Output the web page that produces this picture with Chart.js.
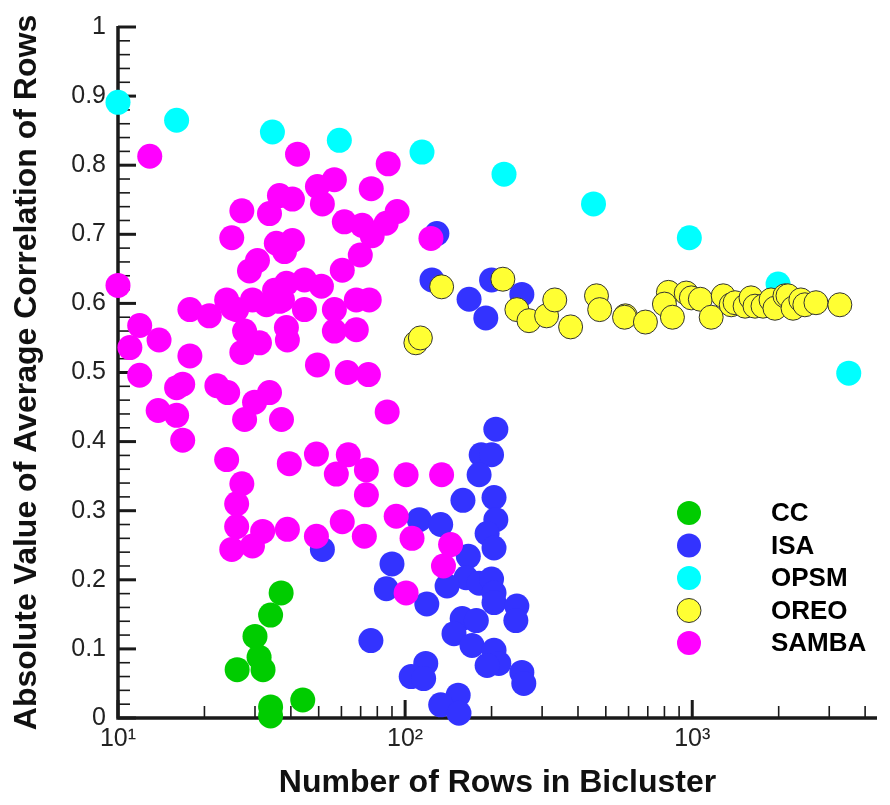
<!DOCTYPE html>
<html>
<head>
<meta charset="utf-8">
<script src="https://cdn.jsdelivr.net/npm/chart.js@4"></script>
<style>
  html, body { margin: 0; padding: 0; background: #fff; }
</style>
</head>
<body>
<canvas id="myChart" width="890" height="805"></canvas>
<script>
const ctx = document.getElementById("myChart").getContext("2d");

const methods = ["CC", "ISA", "OPSM", "OREO", "SAMBA"];

// number of rows / |avg correlation| for each bicluster
const ccRows = [37, 34, 30, 31, 26, 32, 34, 34, 44];
const ccCorr = [0.181, 0.149, 0.118, 0.088, 0.07, 0.07, 0.016, 0.003, 0.026];

const isaRows = [
  129, 124, 200, 167, 191, 255, 207, 184, 200, 181, 159, 204, 112, 133, 207,
  193, 204, 51.5, 166, 90, 163, 181, 200, 140, 204, 204, 86, 119, 245, 243,
  158, 177, 148, 76, 171, 204, 212, 193, 118, 105, 116, 255, 259, 153, 133, 154,
];
const isaCorr = [
  0.701, 0.634, 0.634, 0.606, 0.579, 0.613, 0.418, 0.381, 0.381, 0.352, 0.315,
  0.319, 0.287, 0.28, 0.287, 0.267, 0.246, 0.244, 0.234, 0.223, 0.203, 0.195,
  0.201, 0.191, 0.181, 0.167, 0.187, 0.165, 0.162, 0.141, 0.144, 0.141, 0.122,
  0.112, 0.105, 0.098, 0.079, 0.076, 0.079, 0.06, 0.057, 0.066, 0.05, 0.033,
  0.019, 0.007,
];

const opsmRows = [10, 16, 34.5, 59, 114.5, 221, 453, 977, 1990, 3508];
const opsmCorr = [0.891, 0.865, 0.848, 0.836, 0.819, 0.787, 0.744, 0.695, 0.628, 0.499];

const oreoRows = [
  109, 113, 134, 219, 245, 270, 311, 332, 377, 464, 476, 585, 581, 687, 826,
  800, 853, 953, 993, 1067, 1282, 1164, 1367, 1410, 1528, 1602, 1654, 1764,
  1881, 1941, 2103, 2155, 2244, 2389, 2467, 2697, 3266,
];
const oreoCorr = [
  0.543, 0.55, 0.624, 0.635, 0.591, 0.575, 0.582, 0.605, 0.566, 0.611, 0.591,
  0.582, 0.58, 0.573, 0.616, 0.599, 0.58, 0.615, 0.608, 0.606, 0.611, 0.58,
  0.598, 0.601, 0.596, 0.608, 0.596, 0.596, 0.605, 0.593, 0.611, 0.611, 0.593,
  0.605, 0.598, 0.601, 0.598,
];

const sambaRows = [
  12.9, 10, 11, 11.9, 13.9, 11.9, 13.8, 16, 16.8, 16,
  16.8, 17.8, 17.8, 20.8, 22.1, 24.1, 23.9, 25.1, 29.4, 27.6,
  31.1, 27, 38.6, 38.9, 36.5, 29.9, 33.7, 27.6, 37.1, 23.9,
  27, 25.9, 39.5, 25.9, 31.9, 38.9, 24.9, 29.4, 49.1, 60.4,
  72.1, 49.1, 57.6, 63.4, 73.3, 73.3, 86.6, 100.8, 134, 93.1,
  105.7, 144, 136, 100.8, 27, 24.9, 33.7, 36.5, 40.5, 35.6,
  38, 40.5, 30.6, 28.7, 42.2, 87.3, 76.2, 56.7, 49.5, 51.5,
  61.4, 70.9, 76.8, 85.9, 93.8, 69.8, 60.4, 44.6, 51.1, 38.6,
  35.1, 32.9, 37.4, 44.6, 56.7, 67.6, 75, 56.7, 67.6, 49.5,
  62.9, 74.5, 25.9, 123,
];
const sambaCorr = [
  0.813, 0.626, 0.536, 0.568, 0.547, 0.496, 0.445, 0.478, 0.483, 0.438,
  0.402, 0.591, 0.524, 0.582, 0.481, 0.471, 0.605, 0.593, 0.605, 0.56,
  0.543, 0.529, 0.565, 0.547, 0.603, 0.457, 0.471, 0.432, 0.432, 0.374,
  0.339, 0.31, 0.368, 0.277, 0.27, 0.273, 0.244, 0.249, 0.263, 0.284,
  0.263, 0.382, 0.353, 0.381, 0.359, 0.323, 0.443, 0.352, 0.352, 0.292,
  0.26, 0.251, 0.22, 0.181, 0.734, 0.695, 0.73, 0.756, 0.751, 0.687,
  0.675, 0.691, 0.662, 0.647, 0.816, 0.802, 0.766, 0.779, 0.769, 0.744,
  0.718, 0.713, 0.698, 0.716, 0.733, 0.67, 0.648, 0.634, 0.625, 0.629,
  0.619, 0.598, 0.605, 0.591, 0.591, 0.605, 0.605, 0.56, 0.562, 0.511,
  0.5, 0.497, 0.591, 0.694,
];

const xTickValues = [
  10, 20, 30, 40, 50, 60, 70, 80, 90,
  100, 200, 300, 400, 500, 600, 700, 800, 900,
  1000, 2000, 3000, 4000,
];
const xTickLabels = { 10: "10¹", 100: "10²", 1000: "10³" };

const fontFamily = "'Liberation Sans', Arial, sans-serif";

function toPoints(rows, corr) {
  return rows.map((r, i) => ({ x: r, y: corr[i] }));
}

function makeSet(label, rows, corr, color, order, border) {
  return {
    label: label,
    data: toPoints(rows, corr),
    backgroundColor: color,
    borderColor: border || color,
    borderWidth: border ? 1 : 0,
    pointRadius: border ? 12 : 12.5,
    pointHoverRadius: border ? 12 : 12.5,
    order: order,
    clip: false,
  };
}

// axis lines and inward tick marks, drawn under the points
const axisFrame = {
  id: "axisFrame",
  beforeDatasetsDraw(chart) {
    const { ctx, chartArea, scales } = chart;
    const xs = scales.x;
    const ys = scales.y;
    ctx.save();
    ctx.strokeStyle = "#1a1a1a";
    ctx.lineCap = "butt";

    ys.ticks.forEach((t) => {
      const py = ys.getPixelForValue(t.value);
      const major = Math.round(t.value * 50) % 5 === 0;
      ctx.lineWidth = major ? 3 : 1.6;
      ctx.beginPath();
      ctx.moveTo(chartArea.left, py);
      ctx.lineTo(chartArea.left + (major ? 18 : 12), py);
      ctx.stroke();
    });

    xs.ticks.forEach((t) => {
      const px = xs.getPixelForValue(t.value);
      const major = xTickLabels[t.value] !== undefined;
      ctx.lineWidth = major ? 3 : 1.6;
      ctx.beginPath();
      ctx.moveTo(px, chartArea.bottom);
      ctx.lineTo(px, chartArea.bottom - (major ? 18 : 12));
      ctx.stroke();
    });

    ctx.lineWidth = 3.5;
    ctx.beginPath();
    ctx.moveTo(chartArea.left, chartArea.top - 1);
    ctx.lineTo(chartArea.left, chartArea.bottom);
    ctx.lineTo(chartArea.right, chartArea.bottom);
    ctx.stroke();
    ctx.restore();
  },
};

// legend block in the lower right of the plot
const methodLegend = {
  id: "methodLegend",
  afterDatasetsDraw(chart) {
    const { ctx } = chart;
    ctx.save();
    chart.data.datasets.forEach((ds, i) => {
      const cy = 513 + i * 32.5;
      ctx.beginPath();
      ctx.arc(689, cy, 12, 0, Math.PI * 2);
      ctx.fillStyle = ds.backgroundColor;
      ctx.fill();
      if (ds.borderWidth) {
        ctx.lineWidth = 1;
        ctx.strokeStyle = ds.borderColor;
        ctx.stroke();
      }
      ctx.fillStyle = "#000";
      ctx.font = "bold 26px " + fontFamily;
      ctx.textAlign = "left";
      ctx.textBaseline = "middle";
      ctx.fillText(ds.label, 771, cy + 1);
    });
    ctx.restore();
  },
};

const myChart = new Chart(ctx, {
  type: "scatter",
  data: {
    datasets: [
      makeSet(methods[0], ccRows, ccCorr, "#00cc00", 5),
      makeSet(methods[1], isaRows, isaCorr, "#3333ff", 4),
      makeSet(methods[2], opsmRows, opsmCorr, "#00ffff", 3),
      makeSet(methods[3], oreoRows, oreoCorr, "#ffff33", 2, "#333333"),
      makeSet(methods[4], sambaRows, sambaCorr, "#ff00ff", 1),
    ],
  },
  options: {
    responsive: false,
    animation: false,
    layout: { padding: { top: 22, right: 10, bottom: 0, left: 0 } },
    plugins: {
      legend: { display: false },
      tooltip: { enabled: false },
    },
    scales: {
      x: {
        type: "logarithmic",
        position: "bottom",
        min: 10,
        max: 4400,
        afterFit: (scale) => {
          scale.height = 87;
        },
        afterBuildTicks: (scale) => {
          scale.ticks = xTickValues.map((v) => ({ value: v }));
        },
        grid: { display: false, drawTicks: false },
        border: { display: false },
        ticks: {
          autoSkip: false,
          maxRotation: 0,
          padding: 6,
          color: "#222",
          font: { family: fontFamily, size: 25 },
          callback: (value) => xTickLabels[value] || "",
        },
        title: {
          display: true,
          text: "Number of Rows in Bicluster",
          color: "#111",
          font: { family: fontFamily, size: 32, weight: "bold" },
          padding: { top: 0, bottom: 3 },
        },
      },
      y: {
        min: 0,
        max: 1,
        afterFit: (scale) => {
          scale.width = 118;
        },
        grid: { display: false, drawTicks: false },
        border: { display: false },
        ticks: {
          stepSize: 0.02,
          autoSkip: false,
          padding: 12,
          color: "#222",
          font: { family: fontFamily, size: 25 },
          callback: (value) =>
            Math.round(value * 50) % 5 === 0 ? String(Math.round(value * 10) / 10) : "",
        },
        title: {
          display: true,
          text: "Absolute Value of Average Correlation of Rows",
          color: "#111",
          font: { family: fontFamily, size: 32, weight: "bold" },
          padding: { top: 8, bottom: 0 },
        },
      },
    },
  },
  plugins: [axisFrame, methodLegend],
});
</script>
</body>
</html>
